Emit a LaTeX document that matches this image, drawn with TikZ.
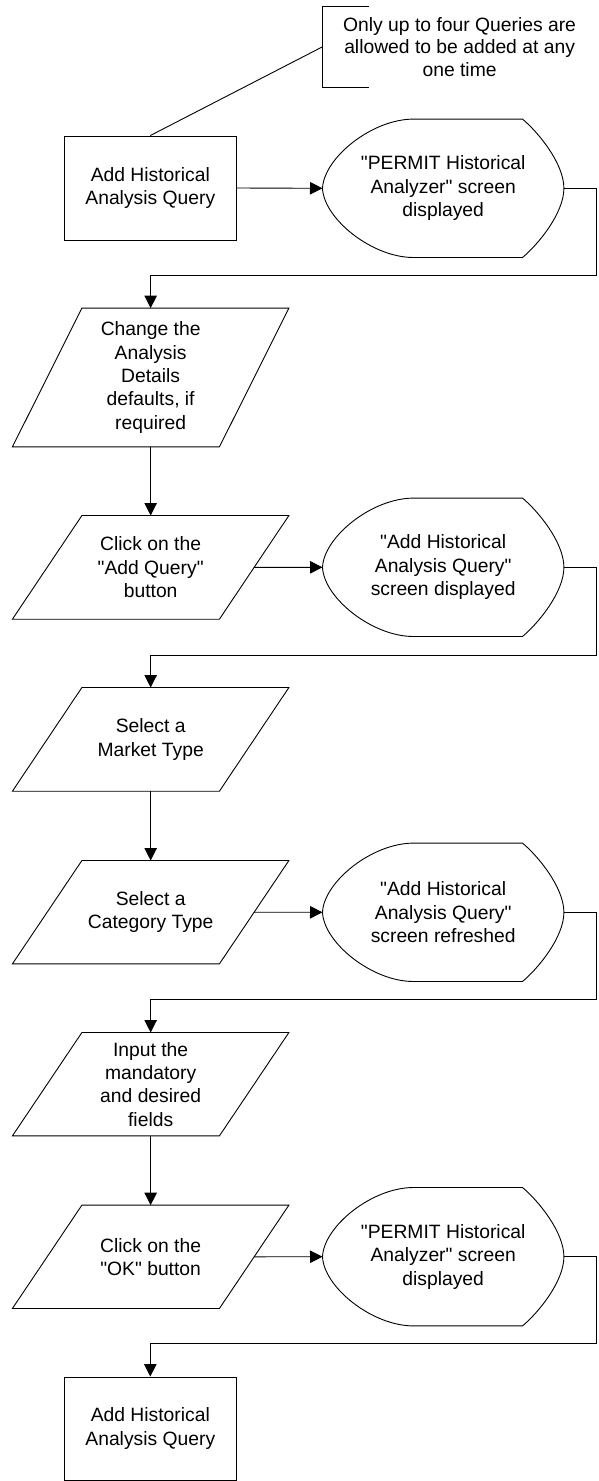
\documentclass[tikz,border=0pt]{standalone}
\usepackage{fontspec}
\setmainfont{Liberation Sans}[Ligatures=TeXOff]
\usetikzlibrary{arrows.meta,calc}
\newcommand{\DispOutline}[1]{%
\draw[outline] ($(#1.north west)+(91,0)$) -- ($(#1.north west)+(200,0)$)
 .. controls ($(#1.north east)+(-25.9,12.9)$) and ($(#1.east)+(0,-25)$) .. (#1.east)
 .. controls ($(#1.east)+(0,25)$) and ($(#1.south east)+(-25.9,-12.9)$) .. ($(#1.south west)+(200,0)$)
 -- ($(#1.south west)+(91,0)$)
 .. controls ($(#1.south west)+(49.3,0)$) and ($(#1.west)+(1.3,30.3)$) .. (#1.west)
 .. controls ($(#1.west)+(1.3,-30.3)$) and ($(#1.north west)+(49.3,0)$) .. ($(#1.north west)+(91,0)$) -- cycle;}
\newcommand{\ParaOutline}[1]{%
\draw[outline] ($(#1.north west)+(69.5,0)$) -- (#1.north east) -- ($(#1.south east)+(-69.5,0)$) -- (#1.south west) -- cycle;
\coordinate (#1r) at ($(#1.east)+(-34.75,0)$);}
\begin{document}
\begin{tikzpicture}[x=1pt,y=-1pt,
  every node/.style={font=\fontsize{19.3}{23.3}\selectfont, align=center, inner sep=0pt},
  outline/.style={draw=black, line width=0.9pt, line join=miter},
  conn/.style={draw=black, line width=0.9pt},
  arr/.style={conn, -{Triangle[length=12.5pt,width=12.5pt]}},
  procbox/.style={draw=black, line width=0.9pt, minimum width=172.4pt, minimum height=104pt},
  parabox/.style={draw=none, minimum width=276.1pt, minimum height=#1},
  dispbox/.style={draw=none, minimum width=241pt, minimum height=138pt},
]
\useasboundingbox (0,0) rectangle (598,1481);

% note
\node[draw=none, minimum width=274.6pt, minimum height=80.6pt, font=\fontsize{19.3}{22.6}\selectfont] (note) at (459.6,47) {Only up to four Queries are\\allowed to be added at any\\one time};
\draw[outline] ($(note.north west)+(46.9,0)$) -- (note.north west) -- (note.south west) -- ($(note.south west)+(46.9,0)$);

% first process
\node[procbox] (b1) at (150.3,188) {Add Historical\\Analysis Query};
\draw[conn] (b1.north) -- (note.west);

% display 1
\node[dispbox] (d1) at (443.2,188.3) {"PERMIT Historical\\Analyzer" screen\\displayed};
\DispOutline{d1}

% para 1
\node[parabox=138.4pt] (p1) at (150.65,377.5) {Change the\\Analysis\\Details\\defaults, if\\required};
\ParaOutline{p1}

% para 2
\node[parabox=103.3pt] (p2) at (150.65,567.35) {Click on the\\"Add Query"\\button};
\ParaOutline{p2}
\node[dispbox] (d2) at (443.2,567.3) {"Add Historical\\Analysis Query"\\screen displayed};
\DispOutline{d2}

% para 3
\node[parabox=103.3pt] (p3) at (150.65,739.35) {Select a\\Market Type};
\ParaOutline{p3}

% para 4
\node[parabox=103pt] (p4) at (150.65,912.2) {Select a\\Category Type};
\ParaOutline{p4}
\node[dispbox] (d3) at (443.2,912.3) {"Add Historical\\Analysis Query"\\screen refreshed};
\DispOutline{d3}

% para 5
\node[parabox=103pt] (p5) at (150.65,1084.2) {Input the\\mandatory\\and desired\\fields};
\ParaOutline{p5}

% para 6
\node[parabox=103pt] (p6) at (150.65,1256.8) {Click on the\\"OK" button};
\ParaOutline{p6}
\node[dispbox] (d4) at (443.2,1256.7) {"PERMIT Historical\\Analyzer" screen\\displayed};
\DispOutline{d4}

% last process
\node[procbox, minimum height=103pt] (b2) at (150.3,1428.5) {Add Historical\\Analysis Query};

% return-path coordinates
\coordinate (r1) at (596.9,275.7);
\coordinate (r2) at (596.9,655);
\coordinate (r3) at (596.9,999.3);
\coordinate (r4) at (596.9,1343.3);

% connectors
\draw[arr] (b1.east) -- (d1.west);
\draw[arr] (d1.east) -| (r1) -| (p1.north);
\draw[arr] (p1.south) -- (p2.north);
\draw[arr] (p2r) -- (d2.west);
\draw[arr] (d2.east) -| (r2) -| (p3.north);
\draw[arr] (p3.south) -- (p4.north);
\draw[arr] (p4r) -- (d3.west);
\draw[arr] (d3.east) -| (r3) -| (p5.north);
\draw[arr] (p5.south) -- (p6.north);
\draw[arr] (p6r) -- (d4.west);
\draw[arr] (d4.east) -| (r4) -| (b2.north);
\end{tikzpicture}
\end{document}
